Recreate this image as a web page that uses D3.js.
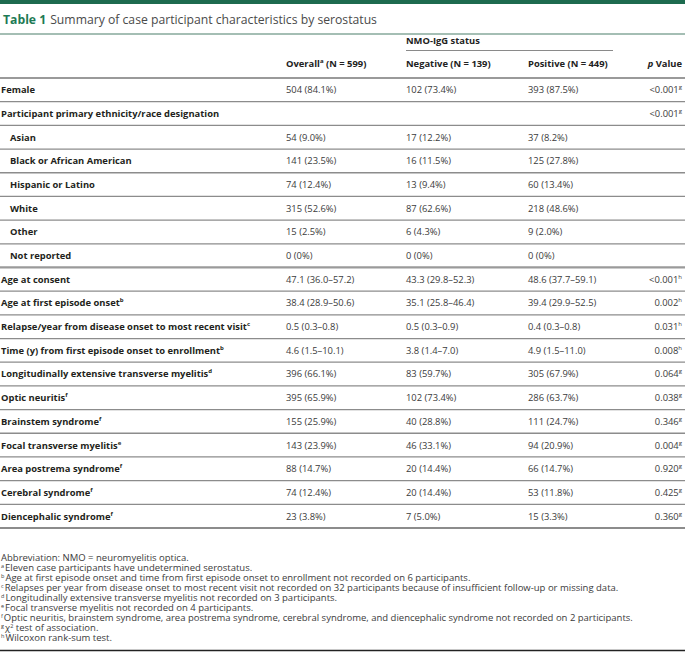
<!DOCTYPE html>
<html><head><meta charset="utf-8">
<script src="https://cdn.jsdelivr.net/npm/d3@7"></script>
<style>
body{margin:0;background:#fff;}
svg{display:block;font-family:"Open Sans",sans-serif;}
</style></head>
<body>
<script>
const rowLabels = ["Female","Participant primary ethnicity/race designation","Asian","Black or African American","Hispanic or Latino","White","Other","Not reported","Age at consent","Age at first episode onset","Relapse/year from disease onset to most recent visit","Time (y) from first episode onset to enrollment","Longitudinally extensive transverse myelitis","Optic neuritis","Brainstem syndrome","Focal transverse myelitis","Area postrema syndrome","Cerebral syndrome","Diencephalic syndrome"];
const rowNotes = ["","","","","","","","","","b","c","b","d","f","f","e","f","f","f"];
const rowIndent = [0,0,1,1,1,1,1,1,0,0,0,0,0,0,0,0,0,0,0];
const overall = ["504 (84.1%)","","54 (9.0%)","141 (23.5%)","74 (12.4%)","315 (52.6%)","15 (2.5%)","0 (0%)","47.1 (36.0–57.2)","38.4 (28.9–50.6)","0.5 (0.3–0.8)","4.6 (1.5–10.1)","396 (66.1%)","395 (65.9%)","155 (25.9%)","143 (23.9%)","88 (14.7%)","74 (12.4%)","23 (3.8%)"];
const negative = ["102 (73.4%)","","17 (12.2%)","16 (11.5%)","13 (9.4%)","87 (62.6%)","6 (4.3%)","0 (0%)","43.3 (29.8–52.3)","35.1 (25.8–46.4)","0.5 (0.3–0.9)","3.8 (1.4–7.0)","83 (59.7%)","102 (73.4%)","40 (28.8%)","46 (33.1%)","20 (14.4%)","20 (14.4%)","7 (5.0%)"];
const positive = ["393 (87.5%)","","37 (8.2%)","125 (27.8%)","60 (13.4%)","218 (48.6%)","9 (2.0%)","0 (0%)","48.6 (37.7–59.1)","39.4 (29.9–52.5)","0.4 (0.3–0.8)","4.9 (1.5–11.0)","305 (67.9%)","286 (63.7%)","111 (24.7%)","94 (20.9%)","66 (14.7%)","53 (11.8%)","15 (3.3%)"];
const pValues = ["<0.001","<0.001","","","","","","","<0.001","0.002","0.031","0.008","0.064","0.038","0.346","0.004","0.920","0.425","0.360"];
const pNotes = ["g","g","","","","","","","h","h","h","h","g","g","g","g","g","g","g"];
const columnHeads = ["Overall","Negative (N = 139)","Positive (N = 449)"];
const footMarks = ["","a","b","c","d","e","f","g","h"];
const footTexts = ["Abbreviation: NMO = neuromyelitis optica.","Eleven case participants have undetermined serostatus.","Age at first episode onset and time from first episode onset to enrollment not recorded on 6 participants.","Relapses per year from disease onset to most recent visit not recorded on 32 participants because of insufficient follow-up or missing data.","Longitudinally extensive transverse myelitis not recorded on 3 participants.","Focal transverse myelitis not recorded on 4 participants.","Optic neuritis, brainstem syndrome, area postrema syndrome, cerebral syndrome, and diencephalic syndrome not recorded on 2 participants.","χ","Wilcoxon rank-sum test."];

const W = 685, H = 653;
const svg = d3.select("body").append("svg").attr("width", W).attr("height", H);

// top bar
svg.append("rect").attr("x",0).attr("y",0).attr("width",W).attr("height",4).attr("fill","#1d6b4f");

// title
const title = svg.append("text").attr("x",3).attr("y",24).attr("font-size",12.2);
title.append("tspan").attr("font-weight",700).attr("fill","#1e7a55").text("Table 1");
title.append("tspan").attr("fill","#4a4a4a").attr("dx",4).text("Summary of case participant characteristics by serostatus");
svg.append("line").attr("x1",0).attr("x2",W).attr("y1",34).attr("y2",34).attr("stroke","#86a99b").attr("stroke-width",1.5);

// rows scale
const y = d3.scaleBand().domain(d3.range(rowLabels.length)).range([78, 528]).padding(0);
const colX = d3.scaleOrdinal().domain(["overall","negative","positive"]).range([286,406,528]);
const pRight = 682;
const fs = 9.4;

// header
svg.append("text").attr("x",colX("negative")).attr("y",43.5).attr("font-size",fs).attr("font-weight",700).attr("fill","#222").text("NMO-IgG status");
svg.append("line").attr("x1",colX("negative")).attr("x2",613).attr("y1",50.5).attr("y2",50.5).attr("stroke","#8a8a8a").attr("stroke-width",1.2);
const hy = 67;
const h0 = svg.append("text").attr("x",colX("overall")).attr("y",hy).attr("font-size",fs).attr("font-weight",700).attr("fill","#222");
h0.append("tspan").text(columnHeads[0]);
h0.append("tspan").attr("font-size",6).attr("dy",-4).text("a");
h0.append("tspan").attr("dy",4).text(" (N = 599)");
svg.append("text").attr("x",colX("negative")).attr("y",hy).attr("font-size",fs).attr("font-weight",700).attr("fill","#222").text(columnHeads[1]);
svg.append("text").attr("x",colX("positive")).attr("y",hy).attr("font-size",fs).attr("font-weight",700).attr("fill","#222").text(columnHeads[2]);
const hp = svg.append("text").attr("x",pRight).attr("y",hy).attr("text-anchor","end").attr("font-size",fs).attr("font-weight",700).attr("fill","#222");
hp.append("tspan").attr("font-style","italic").text("p");
hp.append("tspan").text(" Value");

// header line
svg.append("line").attr("x1",0).attr("x2",W).attr("y1",y(0)).attr("y2",y(0)).attr("stroke","#9a9a9a").attr("stroke-width",2.2);

// separators
const seps = d3.range(1, rowLabels.length + 1);
svg.selectAll("line.sep").data(seps).join("line").attr("class","sep")
  .attr("x1",0).attr("x2",W)
  .attr("y1",d=>y(d-1)+y.bandwidth()).attr("y2",d=>y(d-1)+y.bandwidth())
  .attr("stroke",d=> (d===8) ? "#9a9a9a" : "#8c8c8c")
  .attr("stroke-width",d=> (d===8 || d===rowLabels.length) ? 2.2 : 1.3);

const rows = svg.selectAll("g.row").data(rowLabels).join("g").attr("class","row")
  .attr("transform",(d,i)=>`translate(0,${y(i)+y.bandwidth()/2+3.4})`);

rows.each(function(d,i){
  const g = d3.select(this);
  const t = g.append("text").attr("x", rowIndent[i] ? 10 : 1).attr("font-size",fs).attr("font-weight",700).attr("fill","#231f20");
  t.append("tspan").text(d);
  if (rowNotes[i]) t.append("tspan").attr("font-size",6).attr("dy",-4).text(rowNotes[i]);
  [["overall",overall],["negative",negative],["positive",positive]].forEach(([k,arr])=>{
    if (arr[i]) g.append("text").attr("x",colX(k)).attr("font-size",fs).attr("fill","#3b3b3b").text(arr[i]);
  });
  if (pValues[i]) {
    const p = g.append("text").attr("x",pRight).attr("text-anchor","end").attr("font-size",fs).attr("fill","#3b3b3b");
    p.append("tspan").text(pValues[i]);
    p.append("tspan").attr("font-size",6).attr("dy",-4).text(pNotes[i]);
  }
});

// footnotes
const fy = d3.scaleLinear().domain([0, footTexts.length-1]).range([561, 641]);
const fn = svg.selectAll("text.fn").data(footTexts).join("text").attr("class","fn")
  .attr("x",1).attr("y",(d,i)=>fy(i)).attr("font-size",9.5).attr("fill","#3b3b3b");
fn.each(function(d,i){
  const t = d3.select(this);
  if (footMarks[i]) t.append("tspan").attr("font-size",5.5).attr("dy",-3.5).text(footMarks[i]);
  if (i === 7) {
    t.append("tspan").attr("dy",3.5).attr("dx",1).text(d);
    t.append("tspan").attr("font-size",5.5).attr("dy",-3.5).text("2");
    t.append("tspan").attr("dy",3.5).text(" test of association.");
  } else {
    t.append("tspan").attr("dy",footMarks[i]?3.5:0).attr("dx",footMarks[i]?1:0).text(d);
  }
});

svg.append("line").attr("x1",0).attr("x2",W).attr("y1",650.5).attr("y2",650.5).attr("stroke","#222").attr("stroke-width",1.5);
</script>
</body></html>
